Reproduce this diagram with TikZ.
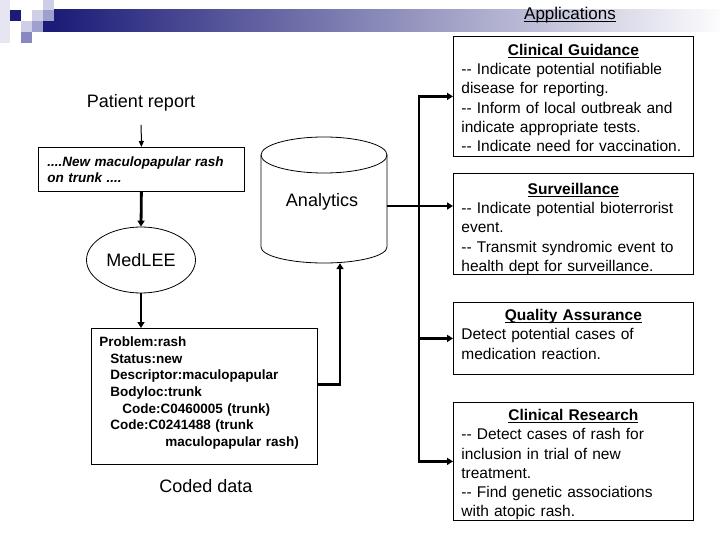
\documentclass[tikz,border=0pt]{standalone}
\usepackage{fontspec}
\setmainfont{Liberation Sans}
\usetikzlibrary{shapes.geometric,arrows.meta,calc}
\definecolor{navy}{RGB}{28,28,120}
\definecolor{barM}{RGB}{192,192,208}
\definecolor{barR}{RGB}{252,252,253}
\definecolor{sqA}{RGB}{230,230,242}
\definecolor{sqB}{RGB}{206,206,230}
\definecolor{sqC}{RGB}{160,160,206}
\definecolor{sqD}{RGB}{136,136,192}
\newcommand{\myul}[1]{\setbox0\hbox{#1}\rlap{\rule[-2.2pt]{\wd0}{0.9pt}}\box0}
\begin{document}
\begin{tikzpicture}[x=1pt,y=-1pt,
  box/.style={draw,line width=0.8pt,inner ysep=0pt,align=left,anchor=north west},
  appbox/.style={box,inner xsep=8pt,text width=224pt,font=\fontsize{15.5}{19.3}\selectfont},
  lbl/.style={inner sep=0pt,anchor=base,font=\fontsize{18}{20}\selectfont},
  arr/.style={line width=2.8pt,-{Triangle[length=6pt,width=7pt]}},
  thinarr/.style={line width=1pt,-{Triangle[length=6pt,width=5pt]}}]
\useasboundingbox (0,0) rectangle (720,540);
\fill[white] (0,0) rectangle (720,540);
% title decoration
\fill[sqA] (0,0) rectangle (10,43);
\fill[navy] (10,10) rectangle (21,21);
\fill[sqB] (21,21) rectangle (32,32);
\fill[sqC] (32,21) rectangle (43,32);
\fill[sqD] (21,32) rectangle (32,43);
\fill[sqB] (32,10) rectangle (43,21);
\fill[sqB] (43,0) rectangle (54,10);
\fill[sqC] (43,10) rectangle (54,21);
\fill[navy] (43,21) rectangle (54,32);
\shade[left color=navy,middle color=barM,right color=barR] (54,10) rectangle (720,32);
\node[lbl,font=\fontsize{17}{20}\selectfont] (apps) at (570,20) {\myul{Applications}};
% left column
\node[lbl] (pr) at (141,108) {Patient report};
\node[box,inner xsep=9pt,text width=188pt,text height=19pt,text depth=25pt,
  font=\fontsize{13.5}{16}\selectfont\bfseries\itshape] (ib) at (38,147)
  {....New maculopapular rash\\on trunk ....};
\node[draw,ellipse,line width=0.8pt,minimum width=109pt,minimum height=66pt,inner sep=0pt,
  font=\fontsize{18}{20}\selectfont] (med) at (141,260) {MedLEE};
\node[box,inner xsep=8pt,text width=210pt,text height=18pt,text depth=118pt,
  font=\fontsize{13.5}{16.67}\selectfont\bfseries] (prob) at (91,328)
  {Problem:rash\\
   \hspace*{11pt}Status:new\\
   \hspace*{11pt}Descriptor:maculopapular\\
   \hspace*{11pt}Bodyloc:trunk\\
   \hspace*{23pt}Code:C0460005 (trunk)\\
   \hspace*{11pt}Code:C0241488 (trunk\\
   \hspace*{66pt}maculopapular rash)};
\node[lbl] (coded) at (206,492) {Coded data};
% analytics cylinder
\node[inner sep=0pt,minimum width=126pt,minimum height=126pt] (ana) at (324,200) {};
\draw[line width=0.8pt] (324,155) ellipse [x radius=63, y radius=18];
\draw[line width=0.8pt] (261,155) -- (261,247) arc[start angle=180,end angle=0,x radius=63,y radius=16] -- (387,155);
\node[lbl] (analbl) at (322,207) {Analytics};
% application boxes
\node[appbox,text height=19pt,text depth=101pt] (cg) at (453,36)
  {\makebox[\linewidth]{\bfseries\myul{Clinical Guidance}}\\
   -{}- Indicate potential notifiable\\
   disease for reporting.\\
   -{}- Inform of local outbreak and\\
   indicate appropriate tests.\\
   -{}- Indicate need for vaccination.};
\node[appbox,text height=21pt,text depth=80pt] (surv) at (453,173)
  {\makebox[\linewidth]{\bfseries\myul{Surveillance}}\\
   -{}- Indicate potential bioterrorist\\
   event.\\
   -{}- Transmit syndromic event to\\
   health dept for surveillance.};
\node[appbox,text height=18pt,text depth=54pt] (qa) at (453,302)
  {\makebox[\linewidth]{\bfseries\myul{Quality Assurance}}\\
   Detect potential cases of\\
   medication reaction.};
\node[appbox,text height=18pt,text depth=100pt] (cr) at (453,402)
  {\makebox[\linewidth]{\bfseries\myul{Clinical Research}}\\
   -{}- Detect cases of rash for\\
   inclusion in trial of new\\
   treatment.\\
   -{}- Find genetic associations\\
   with atopic rash.};
% connectors
\coordinate (bus) at (419,0);
\coordinate (k) at (340,0);
\draw[thinarr,shorten <=13pt] (pr.south) -- (ib.north);
\draw[arr] (ib.south) -- (med.north);
\draw[arr] (med.south) -- (med.south |- prob.north);
\draw[arr] ($(prob.east)+(0,-12)$) -| (k |- ana.south);
\coordinate (a1) at ($(ana.east)+(0,6)$);
\draw[arr] (a1) -- (a1 -| surv.west);
\draw[line width=2.8pt,{Triangle[length=6pt,width=7pt]}-{Triangle[length=6pt,width=7pt]}]
  (cg.west) -- (bus |- cg.west) -- (bus |- cr.west) -- (cr.west);
\draw[arr] (bus |- qa.west) -- (qa.west);
\end{tikzpicture}
\end{document}
